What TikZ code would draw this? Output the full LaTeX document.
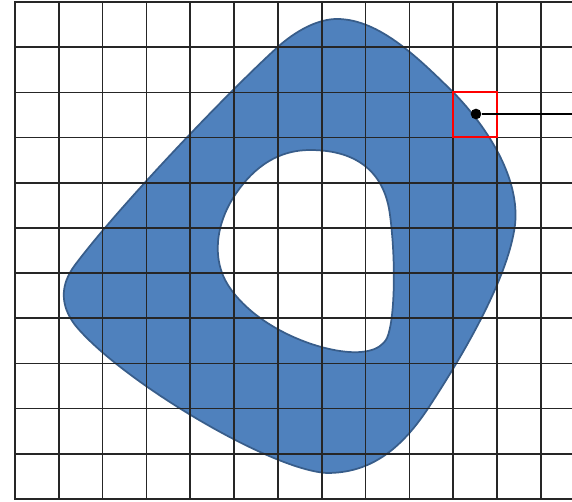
\documentclass[tikz,border=0pt]{standalone}
\begin{document}
\begin{tikzpicture}[x=0.75pt,y=-0.75pt,
  blob/.style={fill=blobfill,draw=blobedge,line width=1.3pt},
  hole/.style={fill=white,draw=blobedge,line width=1.3pt},
  gridline/.style={draw=black!85,line width=1.25pt},
  frame/.style={draw=black!85,line width=1.9pt},
  marker/.style={draw=red,line width=1.9pt,minimum width=44*0.75pt,minimum height=45*0.75pt,inner sep=0pt},
  dotnode/.style={circle,fill=black,inner sep=0pt,minimum size=8pt},
  pointer/.style={draw=black,line width=2.2pt}]
\definecolor{blobfill}{RGB}{79,129,189}
\definecolor{blobedge}{RGB}{56,93,138}
\useasboundingbox (0,0) rectangle (572,502);
\fill[white] (0,0) rectangle (572,502);
% ring shape
\draw[blob] (337,19) .. controls (380,19) and (420,60) .. (453,92)
  .. controls (490,130) and (520,180) .. (515,225)
  .. controls (508,280) and (460,360) .. (427,410)
  .. controls (400,450) and (370,473) .. (327,473)
  .. controls (270,470) and (120,380) .. (75,325)
  .. controls (60,305) and (60,285) .. (75,265)
  .. controls (120,205) and (230,90) .. (280,45)
  .. controls (300,28) and (320,19) .. (337,19) -- cycle;
\draw[hole] (310,150) .. controls (360,150) and (385,175) .. (390,215)
  .. controls (396,260) and (395,320) .. (387,338)
  .. controls (380,352) and (360,354) .. (340,351)
  .. controls (300,345) and (250,320) .. (228,285)
  .. controls (212,260) and (215,225) .. (235,195)
  .. controls (255,165) and (280,150) .. (310,150) -- cycle;
% grid
\foreach \k in {1,...,12} {\draw[gridline] ({15+43.83*\k},2) -- ({15+43.83*\k},499);}
\foreach \j in {1,...,10} {\draw[gridline] (15,{2+45.18*\j}) -- (572,{2+45.18*\j});}
\draw[frame] (572,2) -- (15,2) -- (15,499) -- (572,499);
% marked cell and pointer
\node[marker] (cell) at (475,114.5) {};
\node[dotnode] (dot) at (476,114) {};
\coordinate (tail) at (572,114);
\draw[pointer] (dot) -- (tail);
\end{tikzpicture}
\end{document}
